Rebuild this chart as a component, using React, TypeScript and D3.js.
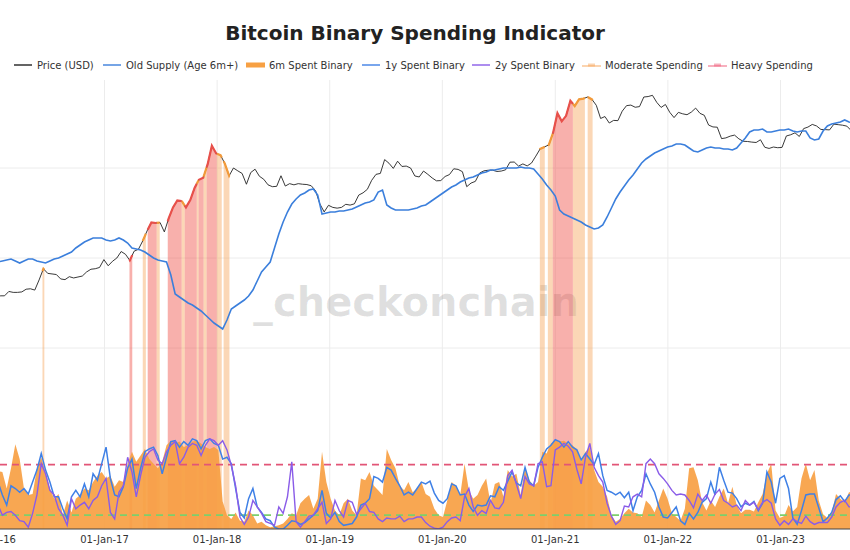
import React from "react";
import * as d3 from "d3";

// ---------------- DATA ----------------
const PRICE_START = "2016-01-15"; // biweekly samples
const READ_START = "2016-01-22"; // biweekly samples for the indicator series
const STEP_DAYS = 14;

const price = [
  410, 380, 380, 425, 415, 415, 420, 450, 455, 440, 570, 760, 675, 665, 655, 585, 575, 620, 600, 615, 630, 700, 750, 760, 785, 960,
  820, 920, 1000, 1180, 1100, 940, 1190, 1250, 1550, 2000, 2480, 2450, 2480, 1950, 2750, 3650, 4350, 4300, 3650, 4400, 6000, 7400, 7800, 10900, 17700, 14500,
  13900, 11200, 8200, 10000, 9300, 8700, 6600, 8900, 9700, 8100, 7500, 6500, 6200, 6250, 8200, 6300, 6700, 6500, 6700, 6600, 6550, 6350, 5600, 4000, 3250, 3850,
  3650, 3580, 3650, 3950, 3870, 4000, 5000, 5300, 5800, 7300, 8500, 8700, 12400, 11300, 9900, 11900, 10400, 10500, 10000, 8150, 7950, 9250, 8500, 7750, 7200, 7250,
  8050, 8450, 9800, 9650, 9100, 6200, 6800, 7100, 8800, 9300, 9450, 9450, 9150, 9250, 9550, 11600, 11650, 10500, 11100, 10550, 11350, 13550, 16300, 17150, 18050, 24700,
  40600, 33000, 38000, 55900, 48800, 58000, 59000, 61500, 57800, 49700, 35500, 37300, 31600, 33800, 33600, 42800, 49300, 50000, 47300, 48100, 61500, 62200, 64200, 53600, 47100, 50800,
  41600, 36300, 41500, 40000, 39100, 41800, 46300, 40500, 38500, 30000, 28600, 28400, 21200, 21600, 22600, 23200, 21100, 19800, 19700, 19400, 19200, 20600, 17000, 16500, 17100, 16800,
  16950, 22700, 23400, 24600, 22400, 27400, 28500, 30500, 29300, 26800, 26700, 26500, 30700, 30300, 29900, 29200, 26100,
];

// Old supply (age 6m+), % of circulating supply
const oldSupply = [
  66.6, 66.7, 66.8, 66.9, 66.7, 66.5, 66.7, 66.9, 66.9, 66.7, 66.6, 66.5, 66.7, 66.9, 67.0, 67.2, 67.4, 67.6, 68.0, 68.3,
  68.6, 68.8, 69.0, 69.0, 69.0, 68.8, 68.7, 68.8, 69.0, 68.8, 68.5, 68.0, 67.9, 67.8, 67.6, 67.3, 67.0, 66.8, 66.7, 66.6,
  65.3, 63.4, 63.1, 62.8, 62.5, 62.3, 62.0, 61.7, 61.3, 60.9, 60.5, 60.2, 59.9, 60.8, 61.9, 62.2, 62.5, 62.8, 63.2, 63.8,
  64.7, 65.6, 66.1, 66.6, 68.0, 69.4, 70.6, 71.6, 72.4, 72.9, 73.3, 73.5, 73.8, 73.9, 73.3, 71.4, 71.5, 71.6, 71.6, 71.7,
  71.7, 71.8, 71.9, 72.1, 72.3, 72.5, 72.6, 72.8, 73.6, 73.8, 72.3, 72.0, 71.8, 71.8, 71.8, 71.8, 71.9, 72.0, 72.2, 72.3,
  72.6, 72.9, 73.2, 73.5, 73.8, 74.1, 74.3, 74.6, 74.8, 75.0, 75.1, 75.3, 75.5, 75.6, 75.8, 75.8, 75.9, 76.0, 76.0, 76.0,
  76.0, 76.1, 76.0, 76.0, 75.9, 75.4, 74.9, 74.3, 73.8, 73.2, 71.8, 71.4, 71.2, 71.0, 70.8, 70.6, 70.3, 70.1, 69.9, 70.0,
  70.3, 71.1, 72.0, 72.9, 73.6, 74.2, 74.8, 75.3, 75.9, 76.5, 76.9, 77.2, 77.5, 77.7, 77.9, 78.1, 78.2, 78.4, 78.4, 78.3,
  78.0, 77.7, 77.6, 77.8, 78.0, 78.1, 78.0, 78.0, 77.9, 77.9, 77.8, 78.0, 78.5, 79.0, 79.6, 79.8, 79.8, 79.9, 79.6, 79.6,
  79.7, 79.8, 79.8, 79.9, 79.7, 79.6, 79.7, 79.7, 79.0, 78.8, 78.9, 79.7, 80.2, 80.4, 80.5, 80.6, 80.8, 80.6, 80.5,
];

const spent6m = [
  0.63, 0.62, 0.44, 0.66, 0.92, 0.76, 0.44, 0.37, 0.38, 0.66, 0.78, 0.62, 0.44, 0.33, 0.38, 0.15, 0.31, 0.18, 0.33, 0.37,
  0.44, 0.42, 0.51, 0.58, 0.62, 0.55, 0.58, 0.46, 0.53, 0.51, 0.71, 0.84, 0.73, 0.80, 0.87, 0.76, 0.71, 0.66, 0.73, 0.91,
  0.96, 0.93, 0.95, 0.89, 0.91, 0.95, 0.96, 0.93, 0.89, 0.87, 0.89, 0.86, 0.30, 0.15, 0.11, 0.18, 0.09, 0.08, 0.20, 0.15,
  0.06, 0.08, 0.04, 0.02, 0.03, 0.04, 0.06, 0.11, 0.17, 0.15, 0.28, 0.33, 0.37, 0.22, 0.33, 0.84, 0.51, 0.33, 0.20, 0.15,
  0.28, 0.33, 0.20, 0.15, 0.55, 0.53, 0.62, 0.47, 0.42, 0.37, 0.87, 0.75, 0.66, 0.47, 0.42, 0.51, 0.40, 0.44, 0.51, 0.38,
  0.35, 0.22, 0.15, 0.13, 0.31, 0.51, 0.47, 0.37, 0.71, 0.42, 0.33, 0.37, 0.47, 0.55, 0.28, 0.49, 0.51, 0.35, 0.64, 0.57,
  0.60, 0.37, 0.67, 0.53, 0.47, 0.51, 0.84, 0.82, 0.93, 0.96, 0.95, 0.96, 0.93, 0.91, 0.86, 0.73, 0.84, 0.89, 0.64, 0.51,
  0.46, 0.35, 0.15, 0.08, 0.11, 0.17, 0.22, 0.18, 0.17, 0.13, 0.31, 0.26, 0.18, 0.31, 0.44, 0.33, 0.17, 0.13, 0.09, 0.22,
  0.66, 0.67, 0.53, 0.29, 0.20, 0.31, 0.24, 0.35, 0.44, 0.28, 0.46, 0.26, 0.17, 0.21, 0.21, 0.19, 0.29, 0.38, 0.60, 0.71,
  0.20, 0.12, 0.14, 0.26, 0.19, 0.24, 0.55, 0.71, 0.53, 0.64, 0.31, 0.16, 0.12, 0.18, 0.38, 0.33, 0.29, 0.40, 0.40,
];

const spent1y = [
  0.51, 0.37, 0.26, 0.47, 0.44, 0.40, 0.44, 0.38, 0.51, 0.64, 0.82, 0.64, 0.51, 0.35, 0.35, 0.22, 0.11, 0.35, 0.42, 0.35,
  0.49, 0.35, 0.60, 0.53, 0.71, 0.89, 0.55, 0.37, 0.35, 0.46, 0.66, 0.76, 0.44, 0.66, 0.84, 0.87, 0.89, 0.80, 0.60, 0.78,
  0.95, 0.96, 0.89, 0.95, 0.91, 0.98, 0.96, 0.87, 0.96, 0.98, 0.93, 0.91, 0.76, 0.78, 0.71, 0.44, 0.18, 0.12, 0.33, 0.44,
  0.24, 0.18, 0.11, 0.09, 0.02, 0.00, 0.00, 0.04, 0.09, 0.08, 0.05, 0.07, 0.11, 0.15, 0.20, 0.42, 0.17, 0.12, 0.18, 0.08,
  0.04, 0.05, 0.06, 0.13, 0.26, 0.28, 0.33, 0.57, 0.55, 0.51, 0.67, 0.64, 0.55, 0.47, 0.37, 0.40, 0.37, 0.44, 0.51, 0.49,
  0.52, 0.39, 0.31, 0.28, 0.33, 0.49, 0.47, 0.37, 0.38, 0.26, 0.19, 0.26, 0.25, 0.26, 0.36, 0.35, 0.46, 0.42, 0.52, 0.62,
  0.50, 0.47, 0.67, 0.51, 0.47, 0.67, 0.78, 0.87, 0.91, 0.97, 0.95, 0.89, 0.95, 0.89, 0.86, 0.75, 0.82, 0.76, 0.70, 0.82,
  0.58, 0.42, 0.40, 0.37, 0.40, 0.34, 0.40, 0.20, 0.35, 0.42, 0.60, 0.49, 0.40, 0.24, 0.13, 0.12, 0.18, 0.24, 0.09, 0.05,
  0.17, 0.11, 0.18, 0.29, 0.33, 0.51, 0.37, 0.67, 0.53, 0.40, 0.39, 0.33, 0.24, 0.28, 0.26, 0.30, 0.20, 0.28, 0.62, 0.51,
  0.28, 0.55, 0.58, 0.44, 0.12, 0.05, 0.20, 0.37, 0.38, 0.38, 0.23, 0.08, 0.12, 0.18, 0.32, 0.36, 0.30, 0.37, 0.37,
];

const spent2y = [
  0.26, 0.15, 0.18, 0.19, 0.15, 0.09, 0.08, 0.02, 0.17, 0.37, 0.71, 0.60, 0.42, 0.37, 0.22, 0.15, 0.04, 0.33, 0.22, 0.26,
  0.29, 0.22, 0.31, 0.35, 0.47, 0.55, 0.18, 0.11, 0.40, 0.47, 0.78, 0.62, 0.35, 0.58, 0.78, 0.84, 0.87, 0.75, 0.71, 0.84,
  0.91, 0.95, 0.71, 0.78, 0.89, 0.93, 0.91, 0.80, 0.91, 0.98, 0.96, 0.91, 0.96, 0.86, 0.69, 0.47, 0.13, 0.05, 0.13, 0.31,
  0.24, 0.17, 0.08, 0.06, 0.04, 0.24, 0.17, 0.35, 0.73, 0.08, 0.02, 0.08, 0.14, 0.15, 0.22, 0.29, 0.06, 0.11, 0.31, 0.20,
  0.13, 0.31, 0.29, 0.16, 0.22, 0.28, 0.19, 0.18, 0.11, 0.08, 0.12, 0.11, 0.11, 0.14, 0.08, 0.11, 0.11, 0.13, 0.13, 0.07,
  0.03, 0.01, 0.00, 0.02, 0.08, 0.12, 0.13, 0.09, 0.35, 0.44, 0.24, 0.15, 0.20, 0.17, 0.31, 0.23, 0.22, 0.29, 0.58, 0.64,
  0.49, 0.33, 0.57, 0.49, 0.47, 0.71, 0.73, 0.46, 0.47, 0.86, 0.89, 0.93, 0.90, 0.84, 0.65, 0.49, 0.78, 0.93, 0.67, 0.58,
  0.51, 0.28, 0.14, 0.05, 0.09, 0.25, 0.24, 0.35, 0.38, 0.35, 0.71, 0.76, 0.71, 0.60, 0.55, 0.49, 0.42, 0.37, 0.38, 0.37,
  0.31, 0.23, 0.38, 0.31, 0.37, 0.28, 0.38, 0.43, 0.31, 0.28, 0.24, 0.26, 0.20, 0.31, 0.26, 0.29, 0.21, 0.29, 0.32, 0.28,
  0.11, 0.04, 0.09, 0.05, 0.11, 0.08, 0.06, 0.14, 0.08, 0.05, 0.07, 0.07, 0.07, 0.13, 0.24, 0.29, 0.31, 0.24, 0.24,
];

// spending periods [start, end]
const moderateBands: [string, string][] = [
  ["2016-06-14", "2016-06-20"],
  ["2017-05-05", "2017-05-15"],
  ["2017-06-19", "2017-06-29"],
  ["2017-09-08", "2017-09-18"],
  ["2017-10-27", "2017-11-02"],
  ["2017-11-18", "2017-11-28"],
  ["2017-12-31", "2018-01-16"],
  ["2018-01-22", "2018-02-10"],
  ["2020-11-12", "2020-11-28"],
  ["2020-12-08", "2020-12-24"],
  ["2021-02-27", "2021-04-07"],
  ["2021-04-16", "2021-05-02"],
];
const heavyBands: [string, string][] = [
  ["2017-03-23", "2017-04-01"],
  ["2017-05-21", "2017-06-19"],
  ["2017-07-25", "2017-09-08"],
  ["2017-09-18", "2017-10-27"],
  ["2017-11-02", "2017-11-18"],
  ["2017-11-28", "2017-12-31"],
  ["2020-12-24", "2021-02-27"],
];

const yearTicks = ["2016-01-01", "2017-01-01", "2018-01-01", "2019-01-01", "2020-01-01", "2021-01-01", "2022-01-01", "2023-01-01"];
const priceGrid = [100, 1000, 10000];
const heavyThreshold = 0.7;
const lightThreshold = 0.15;

const legendItems = [
  { label: "Price (USD)", kind: "line", color: "#222", x: 14 },
  { label: "Old Supply (Age 6m+)", kind: "line", color: "#3b7fdc", x: 103 },
  { label: "6m Spent Binary", kind: "bar", color: "#f7a043", x: 246 },
  { label: "1y Spent Binary", kind: "line", color: "#3f80e6", x: 362 },
  { label: "2y Spent Binary", kind: "line", color: "#8a5ce8", x: 472 },
  { label: "Moderate Spending", kind: "fill", color: "rgba(246,160,80,0.45)", x: 582 },
  { label: "Heavy Spending", kind: "fill", color: "rgba(238,80,110,0.45)", x: 708 },
];

// ---------------- CHART ----------------
const W = 850;
const H = 550;
const PLOT_TOP = 80;
const PLOT_BOTTOM = 529;
const FONT = "'DejaVu Sans', Verdana, sans-serif";

const parse = (s: string) => new Date(s + "T00:00:00Z");

export default function App() {
  const x = d3.scaleUtc().domain([parse("2017-01-01"), parse("2023-01-01")]).range([104.5, 780.5]);
  const yPrice = d3.scaleLog().domain([100, 10000]).range([348, 168]);
  const ySupply = d3.scaleLinear().domain([60, 80]).range([328, 128]);
  const ySpent = d3.scaleLinear().domain([0, 1]).range([PLOT_BOTTOM, 437]);

  const priceDates = price.map((_, i) => d3.utcDay.offset(parse(PRICE_START), i * STEP_DAYS));
  const readDates = spent6m.map((_, i) => d3.utcDay.offset(parse(READ_START), i * STEP_DAYS));

  const priceAt = (t: Date) => {
    const i = d3.bisectLeft(priceDates, t);
    if (i <= 0) return price[0];
    if (i >= price.length) return price[price.length - 1];
    const t0 = +priceDates[i - 1], t1 = +priceDates[i];
    const f = (+t - t0) / (t1 - t0);
    return Math.exp(Math.log(price[i - 1]) * (1 - f) + Math.log(price[i]) * f);
  };

  const bandPoints = (b: [string, string]) => {
    const t0 = parse(b[0]), t1 = parse(b[1]);
    const pts: [number, number][] = [[x(t0), yPrice(priceAt(t0))]];
    priceDates.forEach((d, i) => {
      if (d > t0 && d < t1) pts.push([x(d), yPrice(price[i])]);
    });
    pts.push([x(t1), yPrice(priceAt(t1))]);
    return pts;
  };

  const bandArea = d3.area<[number, number]>().x((d) => d[0]).y0(PLOT_BOTTOM).y1((d) => d[1]);
  const bandLine = d3.line<[number, number]>().x((d) => d[0]).y((d) => d[1]);

  const priceLine = d3.line<number>().x((_, i) => x(priceDates[i])).y((d) => yPrice(d));
  const supplyLine = d3.line<number>().x((_, i) => x(readDates[i])).y((d) => ySupply(d));
  const spentLine = d3.line<number>().x((_, i) => x(readDates[i])).y((d) => ySpent(d));
  const spentArea = d3.area<number>().x((_, i) => x(readDates[i])).y0(ySpent(0)).y1((d) => ySpent(d));

  const fmt = d3.utcFormat("%d-%b-%y");

  return (
    <svg width={W} height={H} style={{ position: "absolute", left: 0, top: 0, background: "#fff" }} fontFamily={FONT}>
      <defs>
        <clipPath id="plotclip">
          <rect x={0} y={PLOT_TOP} width={W} height={PLOT_BOTTOM - PLOT_TOP} />
        </clipPath>
      </defs>
      <rect x={0} y={0} width={W} height={H} fill="#fff" />

      <text x={415} y={40} textAnchor="middle" fontSize={20} fontWeight="bold" fill="#222">
        Bitcoin Binary Spending Indicator
      </text>

      {/* legend */}
      {legendItems.map((it) => (
        <g key={it.label}>
          {it.kind === "line" && <line x1={it.x} x2={it.x + 18} y1={65} y2={65} stroke={it.color} strokeWidth={1.4} />}
          {it.kind === "bar" && <rect x={it.x} y={62.5} width={19} height={5} fill={it.color} />}
          {it.kind === "fill" && (
            <g>
              <line x1={it.x} x2={it.x + 19} y1={66} y2={66} stroke={it.color} strokeWidth={2} />
              <rect x={it.x + 6} y={63.5} width={7} height={3} fill={it.color} />
            </g>
          )}
          <text x={it.x + 23} y={68.5} fontSize={10} fill="#333">
            {it.label}
          </text>
        </g>
      ))}

      <g clipPath="url(#plotclip)">
        {/* grid */}
        {yearTicks.map((t) => (
          <line key={t} x1={x(parse(t))} x2={x(parse(t))} y1={PLOT_TOP} y2={PLOT_BOTTOM} stroke="#ececec" strokeWidth={1} />
        ))}
        {priceGrid.map((p) => (
          <line key={p} x1={0} x2={W} y1={yPrice(p)} y2={yPrice(p)} stroke="#ececec" strokeWidth={1} />
        ))}

        {/* watermark */}
        <text x={416} y={316} textAnchor="middle" fontSize={40} fontWeight="bold" fill="#000" fillOpacity={0.12}>
          _checkonchain
        </text>

        {/* spending bands (behind the 6m area) */}
        {moderateBands.map((b) => (
          <path key={"m" + b[0]} d={bandArea(bandPoints(b)) || ""} fill="rgba(246,160,80,0.42)" />
        ))}
        {heavyBands.map((b) => (
          <path key={"h" + b[0]} d={bandArea(bandPoints(b)) || ""} fill="rgba(240,80,70,0.45)" />
        ))}

        {/* 6m spent area */}
        <path d={spentArea(spent6m) || ""} fill="#f7a043" fillOpacity={0.92} />

        {/* thresholds */}
        <line x1={0} x2={W} y1={ySpent(heavyThreshold)} y2={ySpent(heavyThreshold)} stroke="#e25577" strokeWidth={1.8} strokeDasharray="7,5" />
        <line x1={0} x2={W} y1={ySpent(lightThreshold)} y2={ySpent(lightThreshold)} stroke="#7ccf6c" strokeWidth={1.8} strokeDasharray="7,5" />

        {/* price and supply */}
        <path d={priceLine(price) || ""} fill="none" stroke="#222" strokeWidth={0.9} />
        <path d={supplyLine(oldSupply) || ""} fill="none" stroke="#3b7fdc" strokeWidth={1.6} />

        {/* colored price segments */}
        {moderateBands.map((b) => (
          <path key={"ml" + b[0]} d={bandLine(bandPoints(b)) || ""} fill="none" stroke="#f29a3a" strokeWidth={2.2} />
        ))}
        {heavyBands.map((b) => (
          <path key={"hl" + b[0]} d={bandLine(bandPoints(b)) || ""} fill="none" stroke="#e8504a" strokeWidth={2.2} />
        ))}

        {/* spent binary lines */}
        <path d={spentLine(spent1y) || ""} fill="none" stroke="#3f80e6" strokeWidth={1.5} />
        <path d={spentLine(spent2y) || ""} fill="none" stroke="#8a5ce8" strokeWidth={1.4} />
      </g>

      {/* x axis */}
      <line x1={0} x2={W} y1={PLOT_BOTTOM} y2={PLOT_BOTTOM} stroke="#444" strokeWidth={1.2} />
      {yearTicks.map((t) => (
        <text key={t} x={x(parse(t))} y={543} textAnchor="middle" fontSize={10} fill="#333">
          {fmt(parse(t))}
        </text>
      ))}
    </svg>
  );
}
